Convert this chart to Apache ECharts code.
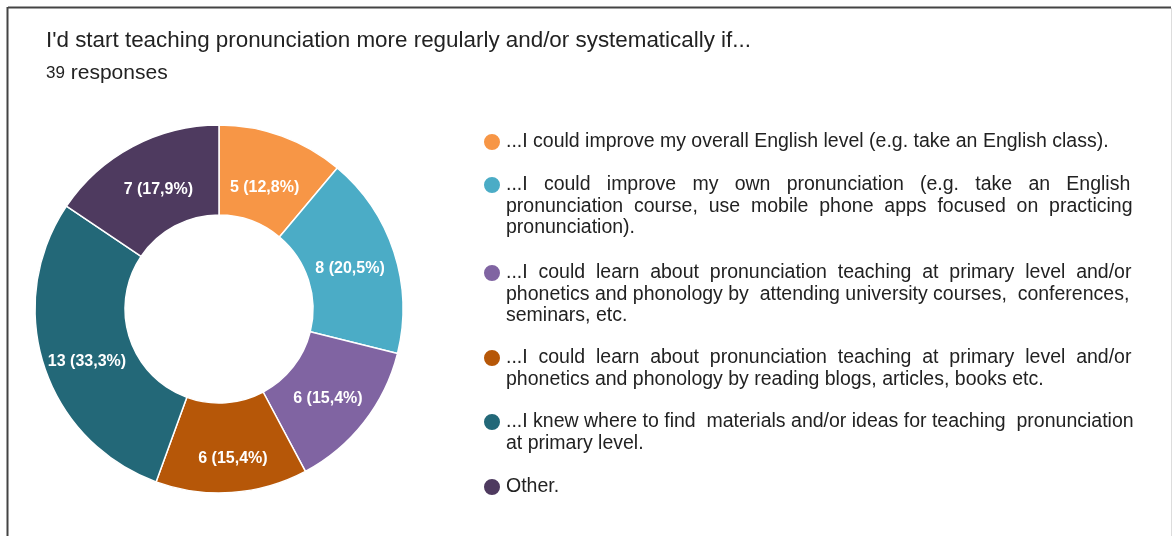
<!DOCTYPE html>
<html>
<head>
<meta charset="utf-8">
<script src="https://cdn.jsdelivr.net/npm/echarts@6/dist/echarts.min.js"></script>
<style>
  html, body { margin: 0; padding: 0; background: #fff; }
  #chart { width: 1173px; height: 536px; }
</style>
</head>
<body>
<div id="chart"></div>
<script>
// Survey question, respondents and answer options (multiple answers allowed)
const questionTitle = "I'd start teaching pronunciation more regularly and/or systematically if...";
const responseCount = 39;
const responsesLabel = 'responses';

// Each option as the lines it wraps to in the legend
const optionLines = [
  ['...I could improve my overall English level (e.g. take an English class).'],
  ['...I could improve my own pronunciation (e.g. take an English',
   'pronunciation course, use mobile phone apps focused on practicing',
   'pronunciation).'],
  ['...I could learn about pronunciation teaching at primary level and/or',
   'phonetics and phonology by attending university courses, conferences,',
   'seminars, etc.'],
  ['...I could learn about pronunciation teaching at primary level and/or',
   'phonetics and phonology by reading blogs, articles, books etc.'],
  ['...I knew where to find materials and/or ideas for teaching pronunciation',
   'at primary level.'],
  ['Other.']
];
const optionCounts = [5, 8, 6, 6, 13, 7];
const optionColors = ['#F79646', '#4BACC6', '#8064A2', '#B65708', '#236878', '#4E3A5F'];

const optionNames = optionLines.map(l => l.join(' '));

// Legend layout
const FONT = '"Liberation Sans", Arial, sans-serif';
const LEGEND_SIZE = 19.5;
const LEGEND_LH = 21.5;
const LEGEND_LEFT = 482;
const ICON = 18;
const TEXT_X = LEGEND_LEFT + ICON + 5;
const TEXT_RIGHT = 1133;
const legendCenters = [142, 185, 273, 358, 422, 487];

// Nudges that keep slice labels clear of the ring edges
const sliceLabelOffsets = [[-3, 12], [-4, 3], [-3, 2], [4, 8], [3, 9], [6, 6]];

// Spread words evenly so a wrapped line fills the text column
const ctx = document.createElement('canvas').getContext('2d');
ctx.font = LEGEND_SIZE + 'px ' + FONT;
function justify(line) {
  const target = TEXT_RIGHT - TEXT_X;
  const words = line.split(' ');
  const gaps = words.length - 1;
  if (gaps < 1) return line;
  const spaceW = ctx.measureText(' ').width;
  const extra = target - ctx.measureText(line).width;
  const add = Math.max(0, Math.floor(extra / spaceW));
  let out = words[0];
  for (let k = 0; k < gaps; k++) {
    const more = Math.floor((k + 1) * add / gaps) - Math.floor(k * add / gaps);
    out += ' '.repeat(1 + more) + words[k + 1];
  }
  return out;
}
// Text block is centred on the legend dot, so blank lines above keep
// the first line level with the dot
const legendTexts = optionLines.map(lines => {
  const body = lines.map((l, i) => (i < lines.length - 1 ? justify(l) : l));
  const pad = new Array(lines.length - 1).fill(' ');
  return pad.concat(body).join('\n');
});

function pct(v) {
  return (v / responseCount * 100).toFixed(1).replace('.', ',');
}

const legends = optionNames.map((name, i) => {
  const n = optionLines[i].length;
  const half = (2 * n - 1) * LEGEND_LH / 2;
  const rectTop = Math.min(0, ICON / 2 - half);
  return {
    data: [name],
    orient: 'vertical',
    left: LEGEND_LEFT,
    top: legendCenters[i] - ICON / 2 + rectTop,
    padding: 0,
    icon: 'circle',
    itemWidth: ICON,
    itemHeight: ICON,
    selectedMode: false,
    formatter: () => legendTexts[i],
    textStyle: {
      fontFamily: FONT,
      fontSize: LEGEND_SIZE,
      lineHeight: LEGEND_LH,
      color: '#222'
    }
  };
});

const chart = echarts.init(document.getElementById('chart'), null, { renderer: 'canvas' });
chart.setOption({
  animation: false,
  color: optionColors,
  title: [
    {
      text: questionTitle,
      left: 46, top: 28, padding: 0,
      textStyle: { fontFamily: FONT, fontSize: 22.4, lineHeight: 26, fontWeight: 'normal', color: '#222' }
    },
    {
      text: '{n|' + responseCount + '} ' + responsesLabel,
      left: 46, top: 62, padding: 0,
      textStyle: {
        fontFamily: FONT, fontSize: 21, lineHeight: 22, fontWeight: 'normal', color: '#222',
        rich: { n: { fontFamily: FONT, fontSize: 17, lineHeight: 22, color: '#222' } }
      }
    }
  ],
  legend: legends,
  graphic: [
    { type: 'line', shape: { x1: 8, y1: 7.5, x2: 1171, y2: 7.5 }, style: { stroke: '#444', lineWidth: 2 } },
    { type: 'line', shape: { x1: 7.5, y1: 7, x2: 7.5, y2: 536 }, style: { stroke: '#444', lineWidth: 2 } },
    { type: 'line', shape: { x1: 1171.5, y1: 8, x2: 1171.5, y2: 536 }, style: { stroke: '#ddd', lineWidth: 1 } }
  ],
  series: [{
    type: 'pie',
    center: [219, 309],
    radius: [94, 184],
    startAngle: 90,
    clockwise: true,
    avoidLabelOverlap: false,
    itemStyle: { borderColor: '#fff', borderWidth: 1.5 },
    label: {
      show: true,
      position: 'inside',
      color: '#fff',
      fontFamily: FONT,
      fontSize: 16,
      fontWeight: 'bold',
      formatter: p => p.value + ' (' + pct(p.value) + '%)'
    },
    labelLine: { show: false },
    emphasis: { scale: false },
    data: optionNames.map((name, i) => ({
      name,
      value: optionCounts[i],
      label: { offset: sliceLabelOffsets[i] }
    }))
  }]
});
</script>
</body>
</html>
